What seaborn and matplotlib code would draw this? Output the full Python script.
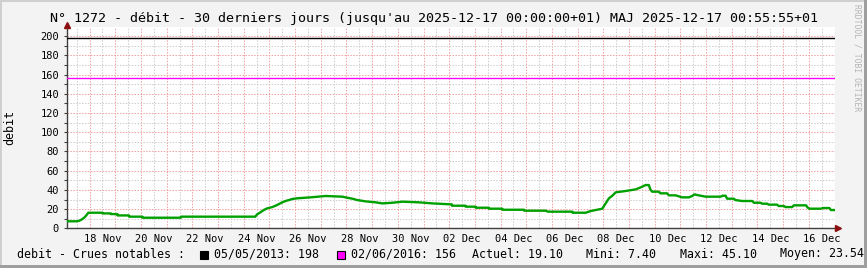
import matplotlib
matplotlib.use("Agg")
import matplotlib.pyplot as plt
import seaborn as sns
import pandas as pd
from matplotlib.transforms import ScaledTranslation, offset_copy
from matplotlib.patches import Rectangle

# ---------------- data ----------------
start = pd.Timestamp("2025-11-17 00:00")
end_day = 30.0
first_day = 0.12

days = [0.13, 0.52, 0.60, 0.70, 0.78, 0.85, 0.90, 0.95, 1.49, 1.50, 1.82, 1.83,
        2.08, 2.09, 2.53, 2.54, 3.05, 3.06, 4.55, 4.56, 7.45, 7.52, 7.65, 7.78,
        7.91, 8.11, 8.24, 8.37, 8.50, 8.63, 8.76, 8.89, 9.08, 9.60, 10.19, 10.84,
        11.03, 11.23, 11.42, 11.75, 12.14, 12.40, 12.79, 13.18, 13.83, 14.35, 14.87,
        15.10, 15.11, 15.63, 15.64, 16.02, 16.03, 16.54, 16.55, 17.06, 17.07, 17.91,
        17.92, 18.75, 18.85, 19.79, 19.80, 20.31, 20.50, 20.96, 21.09, 21.22, 21.35,
        21.48, 21.87, 22.26, 22.46, 22.59, 22.65, 22.77, 22.83, 22.90, 23.16, 23.22,
        23.48, 23.55, 23.81, 24.07, 24.33, 24.46, 24.55, 24.65, 24.98, 25.56, 25.65,
        25.76, 25.82, 26.08, 26.14, 26.40, 26.80, 26.86, 27.12, 27.18, 27.38, 27.44,
        27.76, 27.83, 28.03, 28.09, 28.35, 28.42, 28.89, 28.96, 29.02, 29.47, 29.54,
        29.80, 29.86, 30.00]
debit = [7.4, 7.4, 8.0, 9.4, 11.0, 12.8, 14.6, 16.3, 16.3, 15.6, 15.6, 14.9,
         14.9, 13.5, 13.5, 12.2, 12.2, 11.1, 11.1, 12.2, 12.2, 14.6, 16.7, 19.1,
         20.8, 22.2, 23.6, 25.3, 27.1, 28.5, 29.5, 30.6, 31.3, 32.3, 33.7, 33.0,
         31.9, 30.9, 29.5, 28.1, 27.1, 26.0, 26.7, 27.8, 27.1, 26.0, 25.3,
         25.0, 23.6, 23.6, 22.6, 22.6, 21.5, 21.5, 20.5, 20.5, 19.4, 19.4,
         18.4, 18.4, 17.4, 17.4, 16.3, 16.3, 18.0, 20.5, 26.0, 31.3, 34.0,
         37.5, 38.9, 40.6, 42.7, 44.4, 45.1, 45.1, 40.6, 38.2, 38.2, 36.5,
         36.5, 34.4, 34.4, 32.3, 32.3, 33.7, 35.4, 34.7, 33.0, 33.0, 34.0,
         34.0, 30.9, 30.9, 29.5, 28.5, 28.5, 26.7, 26.7, 25.7, 25.7, 24.7,
         24.7, 23.3, 23.3, 22.2, 22.2, 24.0, 24.0, 21.5, 20.5, 20.5, 21.2,
         21.2, 19.1, 19.1]

label_days = [1, 3, 5, 7, 9, 11, 13, 15, 17, 19, 21, 23, 25, 27, 29]
tick_labels = ["18 Nov", "20 Nov", "22 Nov", "24 Nov", "26 Nov", "28 Nov", "30 Nov",
               "02 Dec", "04 Dec", "06 Dec", "08 Dec", "10 Dec", "12 Dec", "14 Dec", "16 Dec"]
y_ticks = [0, 20, 40, 60, 80, 100, 120, 140, 160, 180, 200]
y_minor = [10, 30, 50, 70, 90, 110, 130, 150, 170, 190]

crue_dates = ["05/05/2013", "02/06/2016"]
crue_values = [198, 156]
crue_colors = ["#000000", "#FF00FF"]
stat_names = ["Actuel", "Mini", "Maxi", "Moyen"]
stat_values = [19.10, 7.40, 45.10, 23.54]

title = "N° 1272 - débit - 30 derniers jours (jusqu'au 2025-12-17 00:00:00+01) MAJ 2025-12-17 00:55:55+01"

# ---------------- figure ----------------
plt.rcParams["font.family"] = ["DejaVu Sans Mono", "DejaVu Sans"]
W, H = 867, 268
fig = plt.figure(figsize=(W / 100, H / 100), dpi=100, facecolor="#F3F3F3")

x0, x1, ytop, ybot = 67, 834.5, 27, 228.4
ax = fig.add_axes([x0 / W, (H - ybot) / H, (x1 - x0) / W, (ybot - ytop) / H])
ax.set_facecolor("white")

times = start + pd.to_timedelta(days, unit="D")
df = pd.DataFrame({"time": times, "debit": debit})
sns.lineplot(data=df, x="time", y="debit", ax=ax, color="#00A000", lw=1.7, zorder=5)

for v, c in zip(crue_values, crue_colors):
    ax.axhline(v, color=c, lw=1.0, zorder=4)

ax.set_xlim(start + pd.Timedelta(days=first_day), start + pd.Timedelta(days=end_day))
ax.set_ylim(0, 209.5)

# grid: red at midnights / every 20, grey at noons / every 10
midnights = [start + pd.Timedelta(days=d) for d in range(1, 31)]
noons = [start + pd.Timedelta(days=d + 0.5) for d in range(0, 30)]
lab_map = dict(zip(label_days, tick_labels))
noon_labels = [lab_map.get(d, "") for d in range(0, 30)]

ax.set_xticks(midnights)
ax.set_xticklabels([""] * len(midnights))
ax.set_xticks(noons, minor=True)
ax.set_xticklabels(noon_labels, minor=True)
ax.set_yticks(y_ticks)
ax.set_yticklabels([str(v) for v in y_ticks])
ax.set_yticks(y_minor, minor=True)

dot = (0, (1.4, 1.4))
ax.grid(which="major", color="#F3A3A3", lw=0.75, linestyle=dot, zorder=0)
ax.grid(which="minor", color="#CFCFCF", lw=0.75, linestyle=dot, zorder=0)
ax.set_axisbelow(True)

ax.tick_params(axis="x", which="both", length=0, pad=4, labelsize=7.5, colors="#000000")
ax.tick_params(axis="y", which="major", length=2.5, width=0.8, pad=3.2, labelsize=7.5,
               color="#404040")
ax.tick_params(axis="y", which="minor", length=2, width=0.8, color="#404040")

for s in ["top", "right"]:
    ax.spines[s].set_visible(False)
for s in ["left", "bottom"]:
    ax.spines[s].set_color("#404040")
    ax.spines[s].set_linewidth(1.0)
ax.set_xlabel("")
ax.set_ylabel("")

# arrows
arrow_c = "#8B1010"
ax.plot([0], [1], marker="^", ms=5, color=arrow_c, clip_on=False, zorder=10,
        transform=offset_copy(ax.transAxes, fig=fig, x=0, y=2.5, units="dots"))
ax.plot([1], [0], marker=">", ms=5, color=arrow_c, clip_on=False, zorder=10,
        transform=offset_copy(ax.transAxes, fig=fig, x=3, y=0, units="dots"))

# texts
fig.text(0.5, 1 - 18.5 / H, title, ha="center", va="center", fontsize=9.6)
fig.text(10 / W, 1 - 127.5 / H, "debit", rotation=90, ha="center", va="center", fontsize=8.4)
fig.text(857 / W, 1 - 4 / H, "RRDTOOL / TOBI OETIKER", rotation=270, ha="center",
         va="top", fontsize=5.8, color="#B4B4B4")

ly = 1 - 254 / H
fs = 8.4
fig.text(17 / W, ly, "debit - Crues notables :", ha="left", va="center", fontsize=fs)
sq_x = [200, 337]
txt_x = [214, 351]
for d, v, c, sx, tx in zip(crue_dates, crue_values, crue_colors, sq_x, txt_x):
    fig.add_artist(Rectangle((sx / W, (H - 258.5) / H), 8 / W, 8 / H, transform=fig.transFigure,
                             facecolor=c, edgecolor="black", lw=0.8))
    fig.text(tx / W, ly, f"{d}: {v}", ha="left", va="center", fontsize=fs)
stat_x = [472, 586, 680, 780]
for n, v, sx in zip(stat_names, stat_values, stat_x):
    fig.text(sx / W, ly, f"{n}: {v:.2f}", ha="left", va="center", fontsize=fs)

# frame shading
fig.add_artist(Rectangle((0, 1 - 2 / H), 1, 2 / H, transform=fig.transFigure, color="#CFCFCF", lw=0))
fig.add_artist(Rectangle((0, 0), 2 / W, 1, transform=fig.transFigure, color="#CFCFCF", lw=0))
fig.add_artist(Rectangle((1 - 3 / W, 0), 3 / W, 1, transform=fig.transFigure, color="#9E9E9E", lw=0))
fig.add_artist(Rectangle((0, 0), 1, 3 / H, transform=fig.transFigure, color="#9E9E9E", lw=0))

fig.savefig("out.png", dpi=100, facecolor=fig.get_facecolor())
